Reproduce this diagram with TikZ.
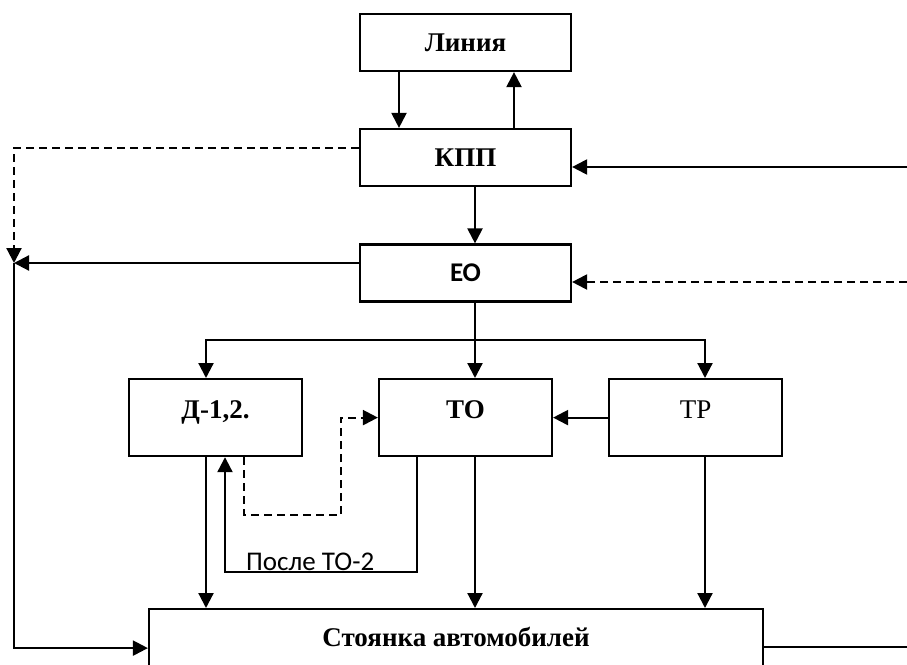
\documentclass[tikz,border=0pt]{standalone}
\usepackage{fontspec}
\setmainfont{Liberation Serif}
\newfontfamily\calibri{Carlito}
\usetikzlibrary{arrows.meta}
\usetikzlibrary{positioning}

\tikzset{
	blok/.style={draw, line width=2.2pt, minimum width=211pt, minimum height=57pt, inner sep=0pt, font=\fontsize{27}{32}\selectfont\bfseries},
	malblok/.style={draw, line width=2.2pt, minimum width=173pt, inner xsep=0pt, inner ysep=0pt, text height=39pt, text depth=38pt, anchor=north, font=\fontsize{27}{32}\selectfont\bfseries},
	strel/.style={line width=2.2pt, -{Triangle[length=15pt,width=15pt]}},
	lin/.style={line width=2.2pt},
	shtrih/.style={line width=2.2pt, dash pattern=on 8pt off 5pt}
}

\begin{document}
\begin{tikzpicture}[x=1pt, y=-1pt]
	\useasboundingbox (0,0) rectangle (907,664);
	\clip (0,0) rectangle (907,664);
	
	% blocks
	\node[blok] (liniya) at (465.5,42.5) {Линия};
	\node[blok] (kpp) at (465.5,157.5) {КПП};
	\node[blok, font=\fontsize{27}{32}\selectfont\calibri\bfseries] (eo) at (465.5,273) {ЕО};
	\node[malblok] (diag) at (215.5,378) {Д-1,2.};
	\node[malblok] (tobl) at (465.5,378) {ТО};
	\node[malblok, font=\fontsize{27}{32}\selectfont] (trem) at (695.5,378) {ТР};
	\node[draw, line width=2.2pt, minimum width=614pt, inner sep=0pt, text height=37pt, text depth=60pt, anchor=north, font=\fontsize{27}{32}\selectfont\bfseries] (stoyanka) at (456,608) {Стоянка автомобилей};
	\node[anchor=base west, inner sep=0pt, font=\fontsize{27}{32}\selectfont\calibri] (posle) at (246,570) {После ТО-2};
	
	% free ends
	\coordinate (razv) at (475,340);
	\coordinate (uzel) at (14,263);
	\coordinate (vkpp) at (907,167);
	\coordinate (veo) at (907,282);
	\coordinate (vyh) at (907,647);
	
	% line <-> kpp
	\draw[strel] ([xshift=-66.5pt]liniya.south) -- ([xshift=-66.5pt]kpp.north);
	\draw[strel] ([xshift=48.5pt]kpp.north) -- ([xshift=48.5pt]liniya.south);
	\draw[strel] ([xshift=9.5pt]kpp.south) -- ([xshift=9.5pt]eo.north);
	
	% add arrow
	\draw[lin] ([xshift=9.5pt]eo.south) -- (razv);
	\draw[strel] (razv) -- ([xshift=9.5pt]tobl.north);
	\draw[strel] (razv) -| ([xshift=-9.5pt]diag.north);
	\draw[strel] (razv) -| ([xshift=9.5pt]trem.north);
	\draw[strel] (trem.west) -- (tobl.east);
	\draw[shtrih, -{Triangle[length=15pt,width=15pt]}] ([xshift=28.5pt]diag.south) -- ++(0,58) -- ++(97,0) |- (tobl.west);
	\draw[strel] ([xshift=-48.5pt]tobl.south) -- ++(0,115) -| ([xshift=9.5pt]diag.south);
	
	% down to parking
	\draw[strel] ([xshift=-9.5pt]diag.south) -- ([xshift=-9.5pt]diag.south |- stoyanka.north);
	\draw[strel] ([xshift=9.5pt]tobl.south) -- ([xshift=9.5pt]tobl.south |- stoyanka.north);
	\draw[strel] ([xshift=9.5pt]trem.south) -- ([xshift=9.5pt]trem.south |- stoyanka.north);
	
	% left side
	\draw[shtrih, -{Triangle[length=15pt,width=15pt]}] ([yshift=9.5pt]kpp.west) -| (uzel);
	\draw[strel] ([yshift=10pt]eo.west) -- (uzel);
	\draw[strel] (uzel) |- ([yshift=9.5pt]stoyanka.west);
	
	% right side
	\draw[strel] (vkpp) -- (kpp.east |- vkpp);
	\draw[shtrih, -{Triangle[length=15pt,width=15pt]}] (veo) -- (eo.east |- veo);
	\draw[lin] (stoyanka.east |- vyh) -- (vyh);
\end{tikzpicture}
\end{document}
